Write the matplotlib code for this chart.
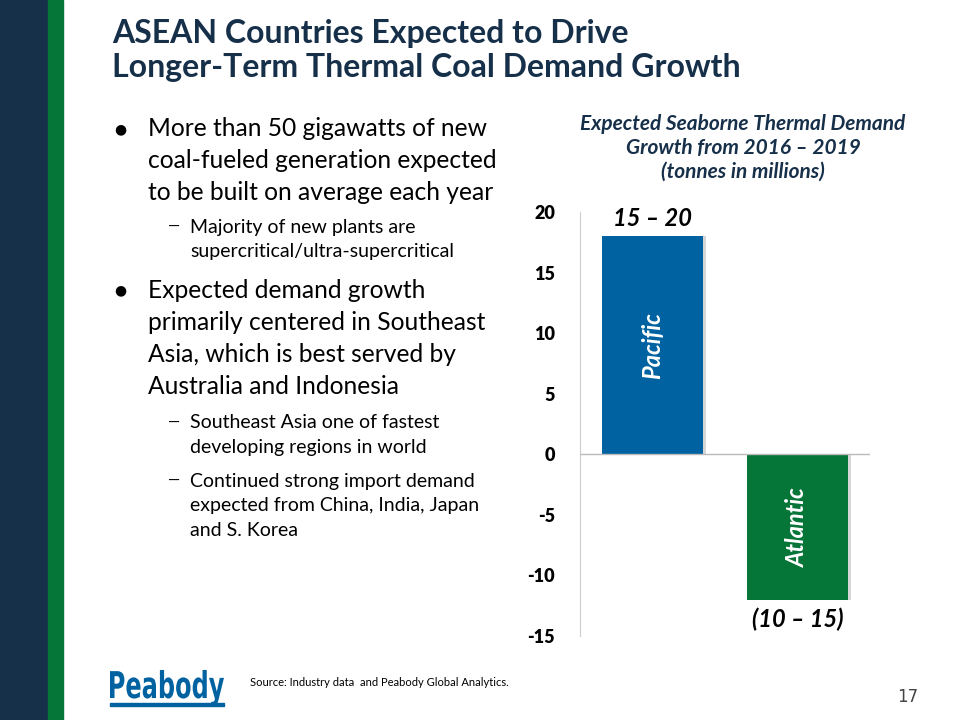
import matplotlib
matplotlib.use("Agg")
import matplotlib.pyplot as plt
from matplotlib.patches import Rectangle, PathPatch
from matplotlib.textpath import TextPath
from matplotlib.font_manager import FontProperties
from matplotlib.transforms import Affine2D

categories = ["Pacific", "Atlantic"]
values = [18, -12]
range_labels = ["15 \u2013 20", "(10 \u2013 15)"]
bar_colors = ["#0062a0", "#067538"]
yticks = [-15, -10, -5, 0, 5, 10, 15, 20]

FONT = "Lato"
NAVY = "#17304a"

fig = plt.figure(figsize=(9.6, 7.2), dpi=100)
fig.patch.set_facecolor("white")

# side bands
fig.add_artist(Rectangle((0, 0), 48/960, 1, transform=fig.transFigure, color=NAVY, zorder=0))
fig.add_artist(Rectangle((48/960, 0), 15/960, 1, transform=fig.transFigure, color="#067538", zorder=0))

# title
fig.text(112/960, 1 - 33/720, "ASEAN Countries Expected to Drive", fontsize=23, fontweight="bold",
         color=NAVY, family=FONT, va="center", ha="left")
fig.text(112/960, 1 - 68/720, "Longer-Term Thermal Coal Demand Growth", fontsize=23, fontweight="bold",
         color=NAVY, family=FONT, va="center", ha="left")

# bullets
big = 17.7
small = 14
lines = [
    ("b", 129, ["More than 50 gigawatts of new", "coal-fueled generation expected", "to be built on average each year"]),
    ("s", 227, ["Majority of new plants are", "supercritical/ultra-supercritical"]),
    ("b", 290, ["Expected demand growth", "primarily centered in Southeast", "Asia, which is best served by", "Australia and Indonesia"]),
    ("s", 423, ["Southeast Asia one of fastest", "developing regions in world"]),
    ("s", 481, ["Continued strong import demand", "expected from China, India, Japan", "and S. Korea"]),
]
for kind, y0, txts in lines:
    if kind == "b":
        fig.text(120/960, 1 - y0/720, "\u25cf", fontsize=10, color="black", family="DejaVu Sans", va="center", ha="center")
        for i, t in enumerate(txts):
            fig.text(148/960, 1 - (y0 + i*32)/720, t, fontsize=big, color="black", family=FONT, va="center", ha="left")
    else:
        fig.text(168/960, 1 - y0/720, "\u2014", fontsize=11, color="black", family=FONT, va="center", ha="left")
        for i, t in enumerate(txts):
            fig.text(190/960, 1 - (y0 + i*25)/720, t, fontsize=small, color="black", family=FONT, va="center", ha="left")

# chart title
for i, t in enumerate(["Expected Seaborne Thermal Demand", "Growth from 2016 \u2013 2019", "(tonnes in millions)"]):
    fig.text(743/960, 1 - (124 + i*24)/720, t, fontsize=15, fontweight="bold", style="italic",
             color=NAVY, family=FONT, va="center", ha="center")

# axes
ax = fig.add_axes([580/960, 84/720, 290/960, 424/720])
x = list(range(len(categories)))
for xi, v in zip(x, values):
    ax.bar(xi + 0.02, v, width=0.70, color="#bbbbbb", alpha=0.6, zorder=2)
ax.bar(x, values, width=0.70, color=bar_colors, zorder=3, edgecolor="none")

ax.set_xlim(-0.5, 1.5)
ax.set_ylim(-15, 20)
ax.set_yticks(yticks)
ax.set_yticklabels([str(t) for t in yticks], fontsize=13, fontweight="heavy", family=FONT)
ax.tick_params(axis="y", length=0, pad=18)
ax.set_xticks([])
for s in ["top", "right", "bottom"]:
    ax.spines[s].set_visible(False)
ax.spines["left"].set_color("#cccccc")
ax.axhline(0, color="#bbbbbb", lw=1, zorder=4)

for xi, v, c, lab in zip(x, values, categories, range_labels):
    ax.text(xi, v / 2, c, rotation=90, ha="center", va="center", color="white",
            fontsize=17, fontweight="bold", style="italic", family=FONT, zorder=5)
    off = 1.5 if v > 0 else -1.6
    ax.text(xi, v + off, lab, ha="center", va="center", fontsize=17, fontweight="bold",
            style="italic", family=FONT)

# footer logo (condensed via path scaling)
fp = FontProperties(family="DejaVu Sans", weight="bold")
tp = TextPath((0, 0), "Peabody", size=30, prop=fp)
ext = tp.get_extents()
sx = 114 / ext.width
sy = 36 / ext.height
tr = Affine2D().translate(-ext.x0, -ext.y0).scale(sx, sy).translate(110, 720 - 706)
patch = PathPatch(tr.transform_path(tp), color="#0062a0", lw=0, transform=None)
fig.add_artist(patch)
fig.add_artist(Rectangle((110/960, 1 - 706/720), 114/960, 3/720, transform=fig.transFigure, color="#0062a0"))
fig.text(250/960, 1 - 683/720, "Source: Industry data  and Peabody Global Analytics.", fontsize=8,
         color="black", family=FONT, va="center", ha="left")
fig.text(918/960, 1 - 697/720, "17", fontsize=12, color="#444444", family="Liberation Sans Narrow",
         va="center", ha="right")

fig.savefig("out.png", dpi=100)
